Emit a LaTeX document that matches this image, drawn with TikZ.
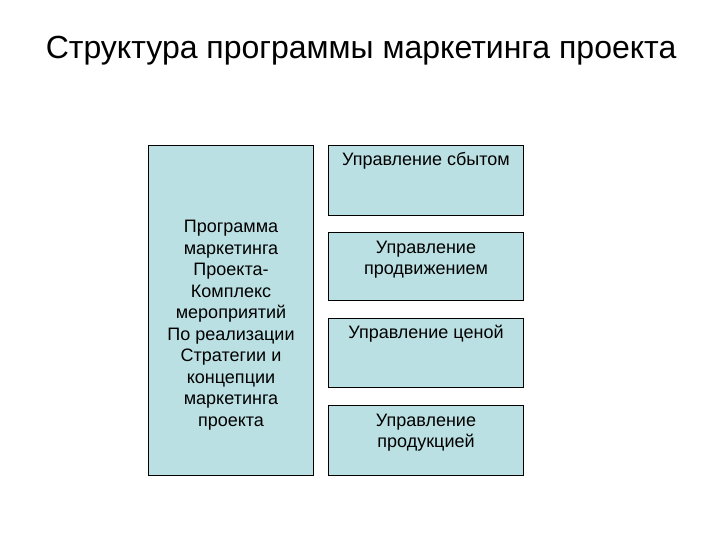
\documentclass[tikz,border=0pt]{standalone}
\usepackage{fontspec}
\setmainfont{Liberation Sans}
\usepackage{xcolor}
\usetikzlibrary{positioning}
\definecolor{boxfill}{RGB}{187,224,227}

\begin{document}
\begin{tikzpicture}[
  x=1pt, y=-1pt,
  block/.style={draw, thick, fill=boxfill, anchor=north west, inner sep=0pt},
  blocktext/.style={align=center, font=\fontsize{18}{21.5}\selectfont, inner sep=0pt}
]
\useasboundingbox (0,0) rectangle (720,540);
% Title
\node[font=\fontsize{32}{38}\selectfont] (title) at (361,51) {Структура программы маркетинга проекта};

% Left block
\node[block, minimum width=165pt, minimum height=330pt] (prog) at (148,145) {};
\node[blocktext] (progtext) at (231,325) {Программа\\маркетинга\\Проекта-\\Комплекс\\мероприятий\\По реализации\\Стратегии и\\концепции\\маркетинга\\проекта};

% Right blocks
\node[block, minimum width=195pt, minimum height=70pt] (sales) at (328,145) {};
\node[blocktext] (salestext) at (426,161) {Управление сбытом};
\node[block, minimum width=195pt, minimum height=68pt] (promo) at (328,232) {};
\node[blocktext] (promotext) at (426,259.5) {Управление\\продвижением};
\node[block, minimum width=195pt, minimum height=69pt] (price) at (328,318) {};
\node[blocktext] (pricetext) at (426,334) {Управление ценой};
\node[block, minimum width=195pt, minimum height=70pt] (product) at (328,405) {};
\node[blocktext] (producttext) at (426,432.5) {Управление\\продукцией};

\end{tikzpicture}
\end{document}
